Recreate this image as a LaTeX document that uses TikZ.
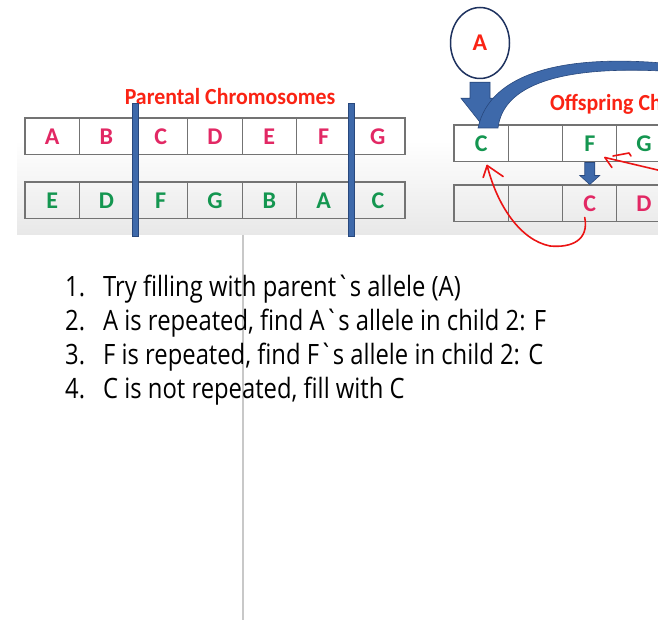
\documentclass[tikz,border=0pt]{standalone}
\usepackage{fontspec}
\setmainfont{Carlito}
\newfontfamily\listfont{Open Sans}
\usetikzlibrary{shapes.geometric}
\definecolor{cellred}{RGB}{226,40,100}
\definecolor{cellgreen}{RGB}{20,150,80}
\definecolor{titlered}{RGB}{250,35,20}
\definecolor{barblue}{RGB}{62,105,170}
\definecolor{bardark}{RGB}{40,72,125}
\definecolor{navy}{RGB}{30,50,95}
\definecolor{cellline}{RGB}{115,115,115}
\definecolor{handred}{RGB}{235,20,20}
\definecolor{bggray}{RGB}{232,232,232}
\definecolor{sepgray}{RGB}{200,200,200}
\begin{document}
\begin{tikzpicture}[x=1pt,y=-1pt,
  cell/.style={draw=cellline, line width=1.1pt, minimum width=54.3pt, minimum height=36.5pt,
    inner sep=0pt, outer sep=0pt, anchor=north west, font=\bfseries\fontsize{24}{24}\selectfont},
  title/.style={text=titlered, font=\bfseries\fontsize{23}{23}\selectfont, inner sep=0pt},
  blockarrow/.style={fill=barblue, draw=bardark, line width=0.6pt},
  hand/.style={draw=handred, line width=1.6pt, line cap=round, line join=round},
  listtext/.style={font=\listfont\fontsize{28}{28}\selectfont, anchor=base west, inner sep=0pt, text=black}]
\clip (0,0) rectangle (658,620);
\fill[white] (0,0) rectangle (658,620);
% screenshot background
\shade[top color=white, bottom color=bggray] (17,140) rectangle (658,235);
% separator
\draw[sepgray, line width=2pt] (243,235) -- (243,620);
% parental chromosomes
\node[title, anchor=base] (ptitle) at (230,105) {\scalebox{0.95}[1]{Parental Chromosomes}};
\foreach \l [count=\i from 0] in {A,B,C,D,E,F,G}
  \node[cell, fill=white, text=cellred] (pa\i) at ({25+54.29*\i},118) {\l};
\foreach \l [count=\i from 0] in {E,D,F,G,B,A,C}
  \node[cell, text=cellgreen] (pb\i) at ({25+54.29*\i},182) {\l};
\filldraw[fill=barblue, draw=bardark, line width=0.8pt] (132,103) rectangle (138,236);
\filldraw[fill=barblue, draw=bardark, line width=0.8pt] (348,103) rectangle (354,236);
% offspring
\node[title, anchor=base west] (otitle) at (550,111) {\scalebox{0.95}[1]{Offspring Chromosomes}};
\foreach \l [count=\i from 0] in {C,{},F,G}
  \node[cell, fill=white, text=cellgreen] (oc\i) at ({454+54.3*\i},125) {\l};
\foreach \l [count=\i from 0] in {{},{},C,D}
  \node[cell, text=cellred] (ob\i) at ({454+54.3*\i},185) {\l};
% circle A
\node[ellipse, draw=navy, line width=1.5pt, fill=white, minimum width=59pt, minimum height=71pt,
  inner sep=0pt, text=titlered, font=\bfseries\fontsize{24}{24}\selectfont] (circA) at (480,43) {A};
\filldraw[blockarrow, shift={(circA.south)}] (-10,3) -- (10,3) -- (10,19) -- (19,19) -- (0,43) -- (-19,19) -- (-10,19) -- cycle;
% big curved arrow
\filldraw[blockarrow] (662,63) .. controls (565,55) and (490,72) .. (478,128)
  -- (498,128) .. controls (503,85) and (560,66) .. (662,71) -- cycle;
% small down arrow F -> C
\filldraw[blockarrow, shift={(oc2.south)}] (-5,1) -- (5,1) -- (5,14) -- (10,14) -- (0,23) -- (-10,14) -- (-5,14) -- cycle;
% hand drawn red arrows
\coordinate (r1s) at ([xshift=-5pt,yshift=4pt]ob2.south);
\coordinate (r1e) at ([xshift=6pt,yshift=-4pt]oc0.south);
\draw[hand] (r1s) .. controls (589,240) and (572,248) .. (550,246) .. controls (520,240) and (497,205) .. (r1e);
\draw[hand] (r1e) -- ++(-4,12);
\draw[hand] (r1e) -- ++(16,11);
\coordinate (r2s) at (662,171);
\coordinate (r2e) at ([xshift=-12pt,yshift=4pt]oc2.south east);
\draw[hand] (r2s) -- (r2e);
\draw[hand] (r2e) -- ++(7,10);
\draw[hand] (613,156) -- (629,153) -- (631,156);
% list
\foreach \n/\t [count=\k from 0] in {
  1./{Try filling with parent\textasciigrave s allele (A)},
  2./{A is repeated, find A\textasciigrave s allele in child 2: F},
  3./{F is repeated, find F\textasciigrave s allele in child 2: C},
  4./{C is not repeated, fill with C}} {
  \node[listtext] (num\k) at (65,{296+34*\k}) {\scalebox{0.85}[1]{\n}};
  \node[listtext] (item\k) at (103,{296+34*\k}) {\scalebox{0.85}[1]{\t}};
}
\end{tikzpicture}
\end{document}
